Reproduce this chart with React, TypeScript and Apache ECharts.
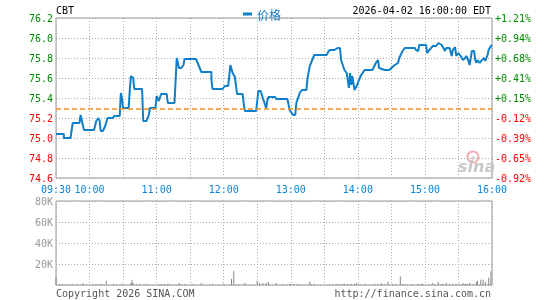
import React, { useEffect, useRef } from "react";
import * as echarts from "echarts";

const symbolName = "CBT";
const dateText = "2026-04-02 16:00:00 EDT";
const seriesName = "价格";
const copyrightText = "Copyright 2026 SINA.COM";
const urlText = "http://finance.sina.com.cn";
const prevClose = 75.29;
const priceMin = 74.6;
const priceMax = 76.2;
const priceStep = 0.2;
const volMax = 80000;
const volStep = 20000;

const timeTickMinutes = [0, 30, 90, 150, 210, 270, 330, 390];
const timeTickLabels = ["09:30", "10:00", "11:00", "12:00", "13:00", "14:00", "15:00", "16:00"];

const priceMinutes = [
  0, 7, 7, 13, 14, 15, 21, 22, 23, 25, 34, 36, 38, 39, 40, 42, 44, 46, 51, 52, 57, 58, 59, 60, 65, 66, 67, 69, 70, 77,
  78, 81, 83, 84, 89, 90, 92, 94, 99, 100, 106, 108, 110, 112, 114, 115, 125, 126, 130, 139, 139, 140, 149, 151, 154,
  156, 158, 160, 162, 167, 168, 169, 179, 181, 183, 185, 188, 189, 190, 196, 197, 207, 209, 212, 214, 215, 218, 220,
  224, 225, 227, 231, 242, 244, 245, 249, 252, 254, 255, 258, 260, 261, 262, 263, 264, 265, 267, 269, 271, 273, 276,
  283, 284, 286, 288, 289, 294, 298, 300, 303, 306, 307, 310, 312, 321, 322, 324, 325, 331, 332, 334, 337, 340, 342,
  345, 348, 349, 352, 354, 355, 357, 358, 360, 362, 364, 366, 367, 369, 370, 372, 374, 375, 376, 377, 379, 381, 383,
  384, 386, 387, 389, 390,
];
const prices = [
  75.04, 75.04, 75.0, 75.0, 75.08, 75.15, 75.15, 75.23, 75.18, 75.08, 75.08, 75.17, 75.2, 75.17, 75.07, 75.07, 75.12,
  75.2, 75.2, 75.22, 75.22, 75.45, 75.4, 75.3, 75.3, 75.48, 75.62, 75.6, 75.49, 75.49, 75.17, 75.17, 75.23, 75.3, 75.3,
  75.42, 75.37, 75.44, 75.44, 75.35, 75.35, 75.8, 75.7, 75.7, 75.73, 75.79, 75.79, 75.77, 75.66, 75.66, 75.58, 75.49,
  75.49, 75.52, 75.52, 75.73, 75.65, 75.61, 75.44, 75.44, 75.33, 75.27, 75.27, 75.47, 75.47, 75.4, 75.3, 75.37, 75.41,
  75.41, 75.39, 75.39, 75.28, 75.23, 75.23, 75.35, 75.45, 75.48, 75.48, 75.6, 75.72, 75.83, 75.83, 75.87, 75.88, 75.88,
  75.9, 75.9, 75.78, 75.68, 75.65, 75.58, 75.5, 75.65, 75.53, 75.62, 75.48, 75.52, 75.58, 75.63, 75.68, 75.68, 75.7,
  75.75, 75.78, 75.7, 75.68, 75.68, 75.7, 75.73, 75.75, 75.8, 75.87, 75.9, 75.9, 75.88, 75.87, 75.93, 75.93, 75.85,
  75.88, 75.92, 75.92, 75.95, 75.93, 75.87, 75.9, 75.9, 75.82, 75.88, 75.91, 75.82, 75.85, 75.82, 75.78, 75.8, 75.82,
  75.77, 75.73, 75.87, 75.87, 75.78, 75.75, 75.78, 75.75, 75.78, 75.8, 75.77, 75.83, 75.88, 75.92, 75.93,
];

const volumeMinutes = [
  0, 3, 6, 9, 12, 15, 19, 24, 27, 33, 36, 39, 41, 45, 51, 54, 58, 60, 67, 68, 69, 72, 75, 79, 82, 92, 94, 97, 100, 101,
  110, 112, 115, 122, 130, 140, 150, 157, 159, 163, 169, 180, 182, 185, 188, 190, 197, 203, 209, 210, 213, 216, 219,
  227, 228, 231, 245, 248, 251, 254, 257, 258, 261, 264, 267, 269, 272, 276, 285, 288, 291, 294, 297, 301, 304, 308,
  310, 313, 319, 324, 327, 328, 334, 337, 339, 342, 345, 346, 349, 352, 355, 358, 361, 364, 366, 367, 368, 370, 373,
  376, 377, 380, 382, 384, 387, 389,
];
const volumes = [
  7000, 1000, 1000, 1000, 1000, 1000, 1000, 2000, 1000, 1000, 1000, 1000, 1000, 4000, 1000, 1000, 1000, 1000, 2000,
  5000, 2000, 1000, 1000, 1000, 1000, 1000, 1000, 1000, 1000, 1000, 2000, 1000, 1000, 1000, 2000, 1000, 1000, 6000,
  13000, 1000, 2000, 4000, 2000, 2000, 2000, 3000, 2000, 1000, 1000, 1000, 1000, 1000, 1000, 3000, 1000, 1000, 1000,
  1000, 1000, 1000, 1000, 1000, 1000, 1000, 1000, 2000, 1000, 1000, 1000, 1000, 2000, 1000, 3000, 1000, 1000, 8000,
  1000, 1000, 1000, 1000, 1000, 1000, 1000, 2000, 1000, 3000, 1000, 1000, 2000, 1000, 1000, 1000, 1000, 2000, 1000,
  1000, 1000, 2000, 1000, 3000, 4000, 5000, 5000, 3000, 7000, 13000,
];

const MONO = "'DejaVu Sans Mono', 'Liberation Mono', monospace";
const BLUE = "#0f7fca";
const GREEN = "#008a00";
const RED = "#ff0000";
const GRID_LINE = { show: true, lineStyle: { color: "#aaaaaa", type: [1, 2] as any, width: 1 } };

export default function App() {
  const ref = useRef<HTMLDivElement>(null);
  useEffect(() => {
    if (!ref.current) return;
    const chart = echarts.init(ref.current, undefined, { renderer: "svg" });
    const priceData = priceMinutes.map((m, i) => [m, prices[i]]);
    const volData = volumeMinutes.map((m, i) => [m, volumes[i]]);
    const timeFmt = (v: number) => {
      const idx = timeTickMinutes.indexOf(Math.round(Number(v)));
      return idx >= 0 ? timeTickLabels[idx] : "";
    };
    const priceColor = (v: any) => (Number(v) > prevClose ? GREEN : RED);
    chart.setOption({
      animation: false,
      legend: {
        data: [seriesName],
        left: 238,
        top: 3,
        icon: "rect",
        itemWidth: 9,
        itemHeight: 3,
        itemGap: 5,
        textStyle: { color: BLUE, fontSize: 12, fontFamily: "'Noto Sans CJK SC', sans-serif" },
        selectedMode: false,
      },
      grid: [
        { left: 56, top: 18, width: 436, height: 160, show: true, borderColor: "#999", borderWidth: 1, backgroundColor: "transparent", containLabel: false },
        { left: 56, top: 201, width: 436, height: 84, show: true, borderColor: "#999", borderWidth: 1, backgroundColor: "transparent", containLabel: false },
      ],
      xAxis: [
        {
          type: "value", gridIndex: 0, min: 0, max: 390, interval: 30,
          axisLine: { show: false }, axisTick: { show: false },
          splitLine: GRID_LINE,
          axisLabel: { formatter: timeFmt, color: "#0a84d6", fontFamily: MONO, fontSize: 10, margin: 6, showMinLabel: true, showMaxLabel: true, hideOverlap: false },
        },
        {
          type: "value", gridIndex: 1, min: 0, max: 390, interval: 30,
          axisLine: { show: false }, axisTick: { show: false }, axisLabel: { show: false },
          splitLine: GRID_LINE,
        },
      ],
      yAxis: [
        {
          type: "value", gridIndex: 0, min: priceMin, max: priceMax, interval: priceStep,
          axisLine: { show: false }, axisTick: { show: false },
          splitLine: GRID_LINE,
          axisLabel: { formatter: (v: number) => Number(v).toFixed(1), color: priceColor, fontFamily: MONO, fontSize: 10, margin: 3 },
        },
        {
          type: "value", gridIndex: 0, position: "right", min: priceMin, max: priceMax, interval: priceStep,
          axisLine: { show: false }, axisTick: { show: false }, splitLine: { show: false },
          axisLabel: {
            formatter: (v: number) => {
              const p = (Number(v) / prevClose - 1) * 100;
              return (p >= 0 ? "+" : "") + p.toFixed(2) + "%";
            },
            color: priceColor, fontFamily: MONO, fontSize: 10, margin: 3,
          },
        },
        {
          type: "value", gridIndex: 1, min: 0, max: volMax, interval: volStep,
          axisLine: { show: false }, axisTick: { show: false },
          splitLine: GRID_LINE,
          axisLabel: { formatter: (v: number) => (Number(v) === 0 ? "" : Number(v) / 1000 + "K"), color: "#999", fontFamily: MONO, fontSize: 10, margin: 3 },
        },
      ],
      series: [
        {
          name: seriesName, type: "line", xAxisIndex: 0, yAxisIndex: 0, data: priceData,
          showSymbol: false, symbol: "none", lineStyle: { color: BLUE, width: 2 }, itemStyle: { color: BLUE },
          markLine: {
            silent: true, symbol: "none", label: { show: false },
            lineStyle: { color: "#f0901e", type: [5, 3] as any, width: 1.5 },
            data: [{ yAxis: prevClose }],
          },
        },
        {
          name: "成交量", type: "bar", xAxisIndex: 1, yAxisIndex: 2, data: volData,
          barWidth: 1, itemStyle: { color: "#888" },
        },
      ],
      graphic: [
        { type: "text", left: 56, top: 5, style: { text: symbolName, font: `10px ${MONO}`, fill: "#000" } },
        { type: "text", right: 54, top: 5, style: { text: dateText, font: `10px ${MONO}`, fill: "#000" } },
        { type: "text", left: 56, top: 288, style: { text: copyrightText, font: `10px ${MONO}`, fill: "#555" } },
        { type: "text", right: 54, top: 288, style: { text: urlText, font: `10px ${MONO}`, fill: "#555" } },
        { type: "circle", shape: { cx: 473, cy: 157, r: 5.5 }, style: { fill: "none", stroke: "#f2b0b0", lineWidth: 2 } },
        { type: "circle", shape: { cx: 473, cy: 158, r: 2 }, style: { fill: "#d8d8d8" } },
        { type: "text", left: 458, top: 158, style: { text: "sina", font: "italic bold 16px 'DejaVu Sans', sans-serif", fill: "#c8c8c8" } },
      ],
    });
    return () => chart.dispose();
  }, []);
  return <div ref={ref} style={{ position: "fixed", left: 0, top: 0, width: 545, height: 300 }} />;
}
